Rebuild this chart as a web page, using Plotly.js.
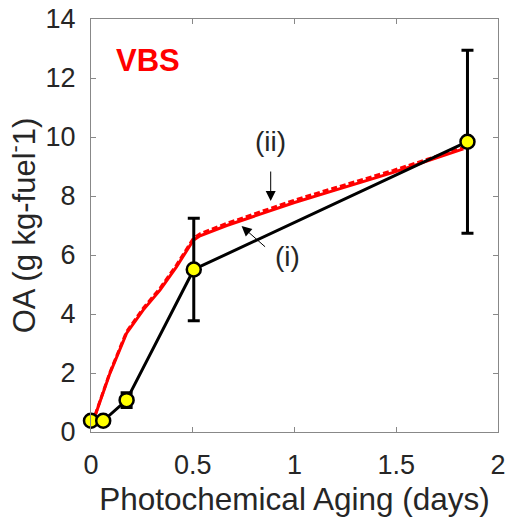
<!DOCTYPE html>
<html>
<head>
<meta charset="utf-8">
<script src="https://cdn.plot.ly/plotly-3.0.1.min.js"></script>
<style>html,body{margin:0;padding:0;background:#fff;}#chart{width:508px;height:520px;}</style>
</head>
<body>
<div id="chart"></div>
<script>
// Measured OA (black with yellow markers)
const measX = [0, 0.06, 0.175, 0.505, 1.85];
const measY = [0.38, 0.38, 1.08, 5.51, 9.84];
const measErr = [0.05, 0.05, 0.25, 1.74, 3.1];

// VBS model (i) solid red
const vbsIX = [0.02, 0.093, 0.175, 0.257, 0.339, 0.42, 0.503, 0.536, 0.667, 0.83, 1.0, 1.2, 1.486, 1.83];
const vbsIY = [0.55, 1.99, 3.35, 4.14, 4.81, 5.6, 6.5, 6.65, 7.0, 7.38, 7.78, 8.2, 8.8, 9.6];

// VBS model (ii) dashed red
const vbsIIX = [0.02, 0.093, 0.175, 0.257, 0.339, 0.42, 0.503, 0.536, 0.667, 0.83, 1.0, 1.2, 1.486, 1.83];
const vbsIIY = [0.57, 2.02, 3.4, 4.2, 4.87, 5.66, 6.56, 6.72, 7.07, 7.45, 7.86, 8.28, 8.87, 9.64];

const xTicks = [0, 0.5, 1, 1.5, 2];
const xTickText = ['0', '0.5', '1', '1.5', '2'];
const yTicks = [0, 2, 4, 6, 8, 10, 12, 14];

const font = 'Liberation Sans, Arial, sans-serif';
const txtCol = '#262626';

const traces = [
  {x: vbsIIX, y: vbsIIY, mode: 'lines', line: {color: '#ff0000', width: 3, dash: '6px,3px'}, hoverinfo: 'skip'},
  {x: vbsIX, y: vbsIY, mode: 'lines', line: {color: '#ff0000', width: 3}, hoverinfo: 'skip'},
  {x: measX, y: measY, mode: 'lines+markers', cliponaxis: false,
   line: {color: '#000000', width: 3},
   marker: {color: '#ffff00', size: 14, line: {color: '#000000', width: 2.5}},
   error_y: {type: 'data', array: measErr, visible: true, color: '#000000', thickness: 3, width: 6}}
];

const layout = {
  width: 508, height: 520,
  margin: {l: 91, r: 10, t: 19, b: 88},
  paper_bgcolor: '#ffffff', plot_bgcolor: '#ffffff',
  showlegend: false,
  font: {family: font, color: txtCol, size: 27},
  xaxis: {
    range: [0, 2], tickvals: xTicks, ticktext: xTickText,
    ticks: 'inside', ticklen: 5, tickcolor: '#888', tickwidth: 1,
    showline: true, linecolor: '#888', linewidth: 1, mirror: 'ticks',
    showgrid: false, zeroline: false,
    tickfont: {size: 27, color: txtCol, family: font},
    ticklabelstandoff: 9,
    title: {text: 'Photochemical Aging (days)', font: {size: 31.5, color: txtCol, family: font}, standoff: 8}
  },
  yaxis: {
    range: [0, 14], tickvals: yTicks,
    ticks: 'inside', ticklen: 5, tickcolor: '#888', tickwidth: 1,
    showline: true, linecolor: '#888', linewidth: 1, mirror: 'ticks',
    showgrid: false, zeroline: false,
    tickfont: {size: 27, color: txtCol, family: font},
    ticklabelstandoff: 9,
    title: {text: 'OA (g kg-fuel<sup>-</sup>1)', font: {size: 31, color: txtCol, family: font}, standoff: 0}
  },
  annotations: [
    {x: 0.28, y: 12.6, xref: 'x', yref: 'y', text: '<b>VBS</b>', showarrow: false,
     font: {size: 31, color: '#ff0000', family: font}},
    {x: 0.88, y: 9.85, xref: 'x', yref: 'y', text: '(ii)', showarrow: false,
     font: {size: 28, color: txtCol, family: font}},
    {x: 0.883, y: 7.83, xref: 'x', yref: 'y', text: '', showarrow: true,
     ax: 0, ay: -31, arrowhead: 2, arrowsize: 2, arrowwidth: 1, arrowcolor: '#000'},
    {x: 0.965, y: 5.94, xref: 'x', yref: 'y', text: '(i)', showarrow: false,
     font: {size: 28, color: txtCol, family: font}},
    {x: 0.74, y: 6.98, xref: 'x', yref: 'y', text: '', showarrow: true,
     ax: 25, ay: 22, arrowhead: 2, arrowsize: 2, arrowwidth: 1, arrowcolor: '#000'}
  ]
};

Plotly.newPlot('chart', traces, layout, {displayModeBar: false, staticPlot: true});
</script>
</body>
</html>
